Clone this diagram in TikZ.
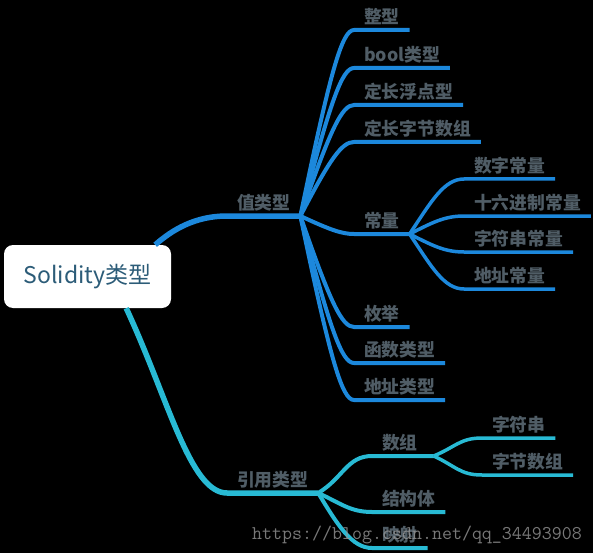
\documentclass[tikz,border=0pt]{standalone}
\usepackage{fontspec}
\setmainfont{Noto Sans CJK SC}
\usepackage{xcolor}
\usepackage{tikz}
\usetikzlibrary{positioning}

\definecolor{valblue}{RGB}{28,136,220}
\definecolor{refcyan}{RGB}{40,186,212}
\definecolor{labelgray}{RGB}{80,93,102}
\definecolor{roottext}{RGB}{44,92,120}
\definecolor{markgray}{RGB}{150,150,150}

\begin{document}
\begin{tikzpicture}[
    x=1pt, y=-1pt,
    rootbox/.style={fill=white, rounded corners=9pt, minimum width=167pt, minimum height=63pt, inner sep=0pt, text=roottext, font=\fontsize{23pt}{26pt}\selectfont},
    topic/.style={anchor=south west, inner xsep=10pt, inner ysep=6.5pt, text depth=0pt, outer sep=0pt, text=labelgray, font=\bfseries\fontsize{17.8pt}{20pt}\selectfont},
    valmain/.style={draw=valblue, line width=5.5pt},
    valline/.style={draw=valblue, line width=4pt},
    valsub/.style={draw=valblue, line width=3.5pt},
    refmain/.style={draw=refcyan, line width=5.5pt},
    refline/.style={draw=refcyan, line width=4pt},
    refsub/.style={draw=refcyan, line width=3.5pt}
  ]
    \useasboundingbox (0,0) rectangle (593,553);
    \fill[black] (0,0) rectangle (593,553);

    \node[rootbox] (root) at (87.5,276.5) {Solidity类型};

    % value types
    \node[topic] (val) at (227,216) {值类型};
    \node[topic] (int) at (354,30) {整型};
    \node[topic] (bool) at (354,68) {bool类型};
    \node[topic] (fixed) at (354,105) {定长浮点型};
    \node[topic] (bytes) at (354,142) {定长字节数组};
    \node[topic] (const) at (354,234) {常量};
    \node[topic] (enum) at (354,327) {枚举};
    \node[topic] (func) at (354,363) {函数类型};
    \node[topic] (addr) at (354,400) {地址类型};

    \node[topic] (cnum) at (464,179) {数字常量};
    \node[topic] (chex) at (464,216) {十六进制常量};
    \node[topic] (cstr) at (464,252) {字符串常量};
    \node[topic] (caddr) at (464,289) {地址常量};

    % reference types
    \node[topic] (ref) at (227,493) {引用类型};
    \node[topic] (arr) at (372,456) {数组};
    \node[topic] (struct) at (372,512) {结构体};
    \node[topic] (map) at (372,548) {映射};
    \coordinate (arrhub) at ([xshift=6pt]arr.south east);

    \node[topic] (str) at (482,438) {字符串};
    \node[topic] (bytearr) at (482,475) {字节数组};

    \draw[valmain] ([xshift=-16pt]root.north east) .. controls +(17,-15) and +(-32,0) .. (val.south west) -- (val.south east);
    \draw[refmain] ([xshift=-45pt]root.south east) .. controls +(42,90) and +(-37,0) .. (ref.south west) -- (ref.south east);

    \draw[valline] (val.south east) .. controls +(30,-145) and +(-12,0) .. (int.south west) -- (int.south east);
    \draw[valline] (val.south east) .. controls +(30,-115) and +(-12,0) .. (bool.south west) -- (bool.south east);
    \draw[valline] (val.south east) .. controls +(30,-87) and +(-12,0) .. (fixed.south west) -- (fixed.south east);
    \draw[valline] (val.south east) .. controls +(30,-58) and +(-12,0) .. (bytes.south west) -- (bytes.south east);
    \draw[valline] (val.south east) .. controls +(30,14) and +(-12,0) .. (const.south west) -- (const.south east);
    \draw[valline] (val.south east) .. controls +(30,87) and +(-12,0) .. (enum.south west) -- (enum.south east);
    \draw[valline] (val.south east) .. controls +(30,115) and +(-12,0) .. (func.south west) -- (func.south east);
    \draw[valline] (val.south east) .. controls +(30,144) and +(-12,0) .. (addr.south west) -- (addr.south east);

    \draw[valsub] (const.south east) .. controls +(22,-33) and +(-20,0) .. (cnum.south west) -- (cnum.south east);
    \draw[valsub] (const.south east) .. controls +(22,-11) and +(-20,0) .. (chex.south west) -- (chex.south east);
    \draw[valsub] (const.south east) .. controls +(22,11) and +(-20,0) .. (cstr.south west) -- (cstr.south east);
    \draw[valsub] (const.south east) .. controls +(22,33) and +(-20,0) .. (caddr.south west) -- (caddr.south east);

    \draw[refline] (ref.south east) .. controls +(25,-15) and +(-25,0) .. (arr.south west) -- (arrhub);
    \draw[refline] (ref.south east) .. controls +(22,10) and +(-22,0) .. (struct.south west) -- (struct.south east);
    \draw[refline] (ref.south east) .. controls +(20,33) and +(-20,0) .. (map.south west) -- (map.south east);

    \draw[refsub] (arrhub) .. controls +(22,-9) and +(-22,0) .. (str.south west) -- (str.south east);
    \draw[refsub] (arrhub) .. controls +(22,10) and +(-22,0) .. (bytearr.south west) -- (bytearr.south east);

    \node[anchor=base west, inner sep=0pt, text=markgray, opacity=0.8, font=\ttfamily\fontsize{19.4pt}{22pt}\selectfont] (mark) at (252,539) {https://blog.csdn.net/qq\_34493908};
  \end{tikzpicture}
\end{document}
